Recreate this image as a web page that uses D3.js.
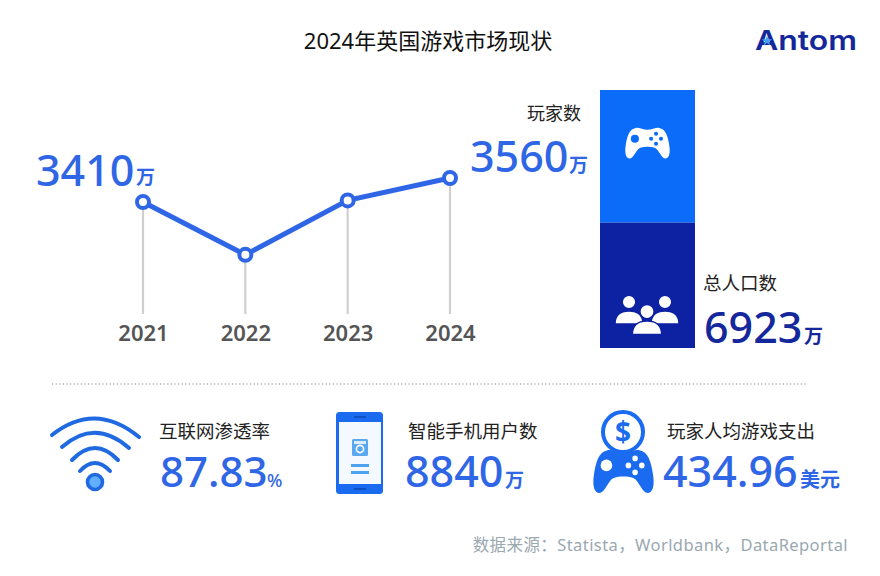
<!DOCTYPE html>
<html>
<head>
  <meta charset="utf-8">
  <title>2024年英国游戏市场现状</title>
  <script src="https://d3js.org/d3.v7.min.js"></script>
  <style>
    html, body { margin: 0; padding: 0; background: #fff; }
    svg { display: block; }
    text { font-family: "Noto Sans", "Noto Sans CJK SC", sans-serif; }
    .num { font-weight: 500; }
    .unit { font-weight: 700; }
  </style>
</head>
<body>
<div id="chart"></div>
<script>
// data
var years = ["2021", "2022", "2023", "2024"];
var players = [3410, 3080, 3420, 3560];
var shareNames = ["玩家数", "总人口数"];
var shareValues = [3560, 3363];
var totalPopulation = 6923;
var sourceNote = "数据来源：Statista，Worldbank，DataReportal";

var blue = "#2f66e6", navy = "#14279b", bright = "#0a6cf8", barNavy = "#0c22a3";
var gamepad = "M24 2C30 0 40 6 50 6C60 6 70 0 76 2C90 4 96 20 99 45C101 62 96 70 90 70C80 70 76 50 66 46C56 43 44 43 34 46C24 50 20 70 10 70C4 70 -1 62 1 45C4 20 10 4 24 2Z";

var svg = d3.select("#chart").append("svg").attr("width", 880).attr("height", 576);

function label(x, y, str, size, fill, cls) {
  return svg.append("text").attr("x", x).attr("y", y).attr("font-size", size)
    .attr("fill", fill).attr("class", cls || null).text(str);
}

// title and logo
label(428, 49, "2024年英国游戏市场现状", 22, "#111").attr("text-anchor", "middle");
label(755, 50, "Antom", 26.5, navy).style("font-family", "Inter").attr("font-weight", 600)
  .attr("textLength", 102).attr("lengthAdjust", "spacingAndGlyphs");
svg.append("path").attr("d", d3.symbol(d3.symbolStar, 34)()).attr("transform", "translate(767,41)").attr("fill", "#3fa0f5");

// line chart
var x = d3.scalePoint().domain(years).range([143, 450]);
var y = d3.scaleLinear().domain([3410, 3560]).range([202, 178]);
var baseY = 314;

svg.selectAll(".stem").data(years).enter().append("line")
  .attr("class", "stem")
  .attr("x1", function(d) { return x(d); }).attr("x2", function(d) { return x(d); })
  .attr("y1", function(d, i) { return y(players[i]); }).attr("y2", baseY)
  .attr("stroke", "#cfcfcf").attr("stroke-width", 2.2);

var axis = svg.append("g").attr("transform", "translate(0," + baseY + ")")
  .call(d3.axisBottom(x).tickSize(0).tickPadding(11));
axis.select(".domain").remove();
axis.selectAll("text").attr("font-size", 22).attr("fill", "#555").attr("font-weight", 600)
  .style("font-family", '"Noto Sans"');

var line = d3.line().x(function(d, i) { return x(years[i]); }).y(function(d) { return y(d); });
svg.append("path").attr("d", line(players)).attr("fill", "none").attr("stroke", blue).attr("stroke-width", 5);

svg.selectAll(".dot").data(players).enter().append("circle")
  .attr("class", "dot")
  .attr("cx", function(d, i) { return x(years[i]); }).attr("cy", function(d) { return y(d); })
  .attr("r", 6).attr("fill", "#fff").attr("stroke", blue).attr("stroke-width", 4);

label(36, 186, players[0], 43, blue, "num");
label(136, 184, "万", 19, blue, "unit");
label(470, 172, players[3], 43, blue, "num");
label(569, 172, "万", 19, blue, "unit");

// share bar
var barY = d3.scaleLinear().domain([0, totalPopulation]).range([90, 348]);
var stack = d3.cumsum(shareValues);
svg.selectAll(".share").data(shareValues).enter().append("rect")
  .attr("class", "share")
  .attr("x", 600).attr("width", 95)
  .attr("y", function(d, i) { return barY(stack[i] - d); })
  .attr("height", function(d) { return barY(d) - barY(0); })
  .attr("fill", function(d, i) { return i ? barNavy : bright; });

label(527, 120, shareNames[0], 18, "#222");
label(703, 290, shareNames[1], 18.5, "#222");
label(704, 343, totalPopulation, 43, navy, "num");
label(804, 343, "万", 19, navy, "unit");

// white gamepad on the bar
var padA = svg.append("g").attr("transform", "translate(625,127) scale(.45)");
padA.append("path").attr("d", gamepad).attr("fill", "#fff");
padA.append("circle").attr("cx", 22).attr("cy", 26).attr("r", 9).attr("fill", bright);
[[69, 15], [69, 37], [58, 26], [80, 26]].forEach(function(p) {
  padA.append("circle").attr("cx", p[0]).attr("cy", p[1]).attr("r", 4.5).attr("fill", bright);
});

// people icon
function person(g, cx, cy, scale) {
  var t = g.append("g").attr("transform", "translate(" + cx + "," + cy + ") scale(" + scale + ")");
  t.append("circle").attr("cy", -9).attr("r", 6.8).attr("fill", "#fff").attr("stroke", barNavy).attr("stroke-width", 1.5);
  t.append("path").attr("d", "M-14 13C-14 3 -7 0 0 0C7 0 14 3 14 13Z").attr("fill", "#fff").attr("stroke", barNavy).attr("stroke-width", 1.5);
}
var people = svg.append("g");
person(people, 629, 311, 1);
person(people, 665, 311, 1);
person(people, 647, 321, 1.05);

// divider
svg.append("line").attr("x1", 52).attr("x2", 808).attr("y1", 384).attr("y2", 384)
  .attr("stroke", "#8a8a8a").attr("stroke-width", 1.2).attr("stroke-dasharray", "1.2 2.4");

// wifi icon
["M52 435Q95 401 139 437", "M62 447Q95 418 129 448", "M72 460Q95 436 118 460", "M80 471Q95 455 110 471"].forEach(function(d) {
  svg.append("path").attr("d", d).attr("fill", "none").attr("stroke", "#1f6ae0").attr("stroke-width", 4).attr("stroke-linecap", "round");
});
svg.append("circle").attr("cx", 95).attr("cy", 482).attr("r", 7.5).attr("fill", "#62aeff").attr("stroke", "#1f6ae0").attr("stroke-width", 3.6);

label(159, 438, "互联网渗透率", 18.5, "#222");
label(160, 487, "87.83", 42, blue, "num");
label(267, 487, "%", 18, blue, "num");

// phone icon
svg.append("rect").attr("x", 336).attr("y", 412).attr("width", 47).attr("height", 82).attr("rx", 3.5).attr("fill", "#1a6bf0");
svg.append("rect").attr("x", 339).attr("y", 422).attr("width", 42).attr("height", 62).attr("fill", "#f4f9ff");
svg.append("rect").attr("x", 354).attr("y", 416).attr("width", 12).attr("height", 2).attr("fill", "#0f4fc0");
svg.append("rect").attr("x", 354).attr("y", 488).attr("width", 12).attr("height", 2).attr("fill", "#0f4fc0");
svg.append("rect").attr("x", 352).attr("y", 439).attr("width", 16).attr("height", 17).attr("rx", 1.5).attr("fill", "#5aa9f0");
svg.append("rect").attr("x", 354).attr("y", 441).attr("width", 12).attr("height", 3).attr("fill", "#dcecfb");
svg.append("circle").attr("cx", 360).attr("cy", 449).attr("r", 3.6).attr("fill", "#5aa9f0").attr("stroke", "#fff").attr("stroke-width", 1.6);
svg.append("rect").attr("x", 351).attr("y", 464).attr("width", 18).attr("height", 3).attr("fill", "#4da3f0");
svg.append("rect").attr("x", 351).attr("y", 471).attr("width", 18).attr("height", 3).attr("fill", "#4da3f0");

label(408, 438, "智能手机用户数", 18.5, "#222");
label(405, 487, "8840", 43, blue, "num");
label(505, 487, "万", 19, blue, "unit");

// coin and gamepad icon
svg.append("circle").attr("cx", 623).attr("cy", 432).attr("r", 20).attr("fill", "#fff").attr("stroke", "#1a6bf0").attr("stroke-width", 4);
label(623, 442, "$", 28, "#1a6bf0", "unit").attr("text-anchor", "middle");
var padB = svg.append("g").attr("transform", "translate(593,449) scale(.61,.63)");
padB.append("path").attr("d", gamepad).attr("fill", "#1a6bf0");
padB.append("circle").attr("cx", 22).attr("cy", 26).attr("r", 9.5).attr("fill", "#fff");
[[69, 15], [69, 37], [58, 26], [80, 26]].forEach(function(p) {
  padB.append("circle").attr("cx", p[0]).attr("cy", p[1]).attr("r", 4.5).attr("fill", "#fff");
});

label(667, 438, "玩家人均游戏支出", 18.5, "#222");
label(663, 487, "434.96", 43, blue, "num");
label(800, 487, "美元", 20, blue, "unit");

// source
label(848, 551, sourceNote, 16.5, "#9aa8b0").attr("text-anchor", "end").attr("letter-spacing", 0.42);
</script>
</body>
</html>
